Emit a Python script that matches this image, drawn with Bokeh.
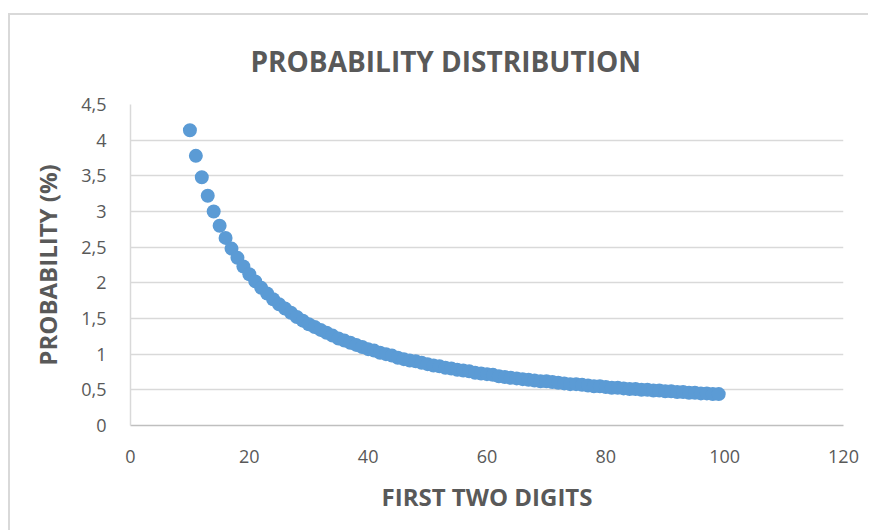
from bokeh.plotting import figure
from bokeh.models import FixedTicker, Range1d, ColumnDataSource
from bokeh.embed import file_html
from bokeh.resources import INLINE

first_two_digits = list(range(10, 100))
probability = [
    4.14, 3.78, 3.48, 3.22, 3.00, 2.80, 2.63, 2.48, 2.35, 2.23,
    2.12, 2.02, 1.93, 1.85, 1.77, 1.70, 1.64, 1.58, 1.52, 1.47,
    1.42, 1.38, 1.34, 1.30, 1.26, 1.22, 1.19, 1.16, 1.13, 1.10,
    1.07, 1.05, 1.02, 1.00, 0.98, 0.95, 0.93, 0.91, 0.90, 0.88,
    0.86, 0.84, 0.83, 0.81, 0.80, 0.78, 0.77, 0.76, 0.74, 0.73,
    0.72, 0.71, 0.69, 0.68, 0.67, 0.66, 0.65, 0.64, 0.63, 0.62,
    0.62, 0.61, 0.60, 0.59, 0.58, 0.58, 0.57, 0.56, 0.55, 0.55,
    0.54, 0.53, 0.53, 0.52, 0.51, 0.51, 0.50, 0.50, 0.49, 0.49,
    0.48, 0.48, 0.47, 0.47, 0.46, 0.46, 0.45, 0.45, 0.44, 0.44,
]
x_ticks = [0, 20, 40, 60, 80, 100, 120]
y_ticks = [0, 0.5, 1, 1.5, 2, 2.5, 3, 3.5, 4, 4.5]
y_tick_labels = ["0", "0,5", "1", "1,5", "2", "2,5", "3", "3,5", "4", "4,5"]

TEXT = "#595959"
FONT = "Open Sans"

# canvas placed at (OX, OY) inside the page, with a thin grey border on top and left
OX, OY = 10, 15
W, H = 870 - OX, 532 - OY
# frame position on the page
FL, FR, FT, FB = 130, 843, 104, 425

p = figure(width=W, height=H, output_backend="svg", toolbar_location=None,
           x_range=Range1d(0, 120), y_range=Range1d(0, 4.5),
           min_border_left=FL - OX, min_border_right=OX + W - FR,
           min_border_top=FT - OY, min_border_bottom=OY + H - FB)
p.margin = (OY - 2, 0, 0, OX - 2)
p.styles = {"border-top": "2px solid #d9d9d9", "border-left": "2px solid #d9d9d9"}
p.outline_line_color = None
p.background_fill_color = "white"
p.border_fill_color = "white"

p.title.text = "PROBABILITY DISTRIBUTION"
p.title.text_font = FONT
p.title.text_font_size = "28px"
p.title.text_font_style = "bold"
p.title.text_color = TEXT
p.title.align = "left"
p.title.offset = 120
p.title.standoff = 49

src = ColumnDataSource(dict(x=first_two_digits, y=probability))
p.scatter("x", "y", source=src, size=14, fill_color="#5B9BD5", line_color="#5B9BD5", line_width=0)

p.xgrid.grid_line_color = None
p.ygrid.grid_line_color = "#d9d9d9"
p.ygrid.grid_line_width = 1.5

p.xaxis.ticker = FixedTicker(ticks=x_ticks)
p.yaxis.ticker = FixedTicker(ticks=y_ticks)
p.yaxis.major_label_overrides = {t: l for t, l in zip(y_ticks, y_tick_labels)}

for ax in (p.xaxis[0], p.yaxis[0]):
    ax.major_tick_line_color = None
    ax.minor_tick_line_color = None
    ax.major_label_text_font = FONT
    ax.major_label_text_font_size = "18px"
    ax.major_label_text_color = TEXT
    ax.axis_label_text_font = FONT
    ax.axis_label_text_font_size = "24px"
    ax.axis_label_text_font_style = "bold"
    ax.axis_label_text_color = TEXT

p.xaxis.axis_line_color = "#bfbfbf"
p.xaxis.axis_line_width = 1.5
p.yaxis.axis_line_color = "#d9d9d9"
p.yaxis.axis_line_width = 1.5
p.xaxis.major_label_standoff = 18
p.yaxis.major_label_standoff = 18
p.xaxis.axis_label = "FIRST TWO DIGITS"
p.yaxis.axis_label = "PROBABILITY (%)"
p.xaxis.axis_label_standoff = 14
p.yaxis.axis_label_standoff = 14

open("out.html", "w").write(file_html(p, INLINE))
